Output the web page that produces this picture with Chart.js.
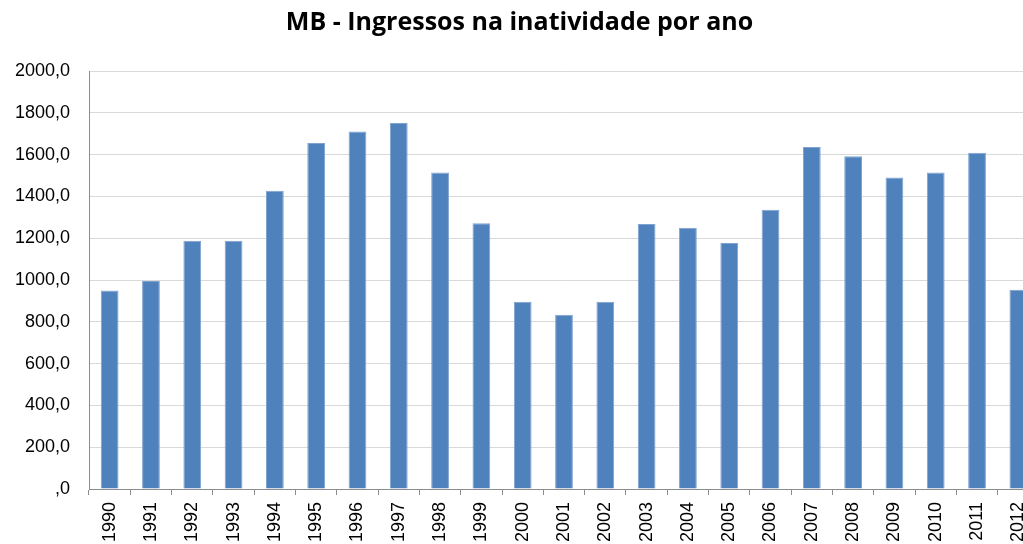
<!DOCTYPE html>
<html lang="pt">
<head>
    <meta charset="UTF-8">
    <title>MB - Ingressos na inatividade por ano</title>
    <script src="https://cdn.jsdelivr.net/npm/chart.js"></script>
    <style>
        html, body {
            margin: 0;
            padding: 0;
            background: #fff;
            overflow: hidden;
        }
        #chart {
            display: block;
        }
    </style>
</head>
<body>
    <canvas id="chart" width="1055" height="560"></canvas>

    <script>
        // Anos e ingressos por ano
        const years = ['1990', '1991', '1992', '1993', '1994', '1995', '1996', '1997', '1998', '1999', '2000', '2001',
                       '2002', '2003', '2004', '2005', '2006', '2007', '2008', '2009', '2010', '2011', '2012'];
        const ingressos = [950, 995, 1188, 1188, 1427, 1655, 1711, 1751, 1514, 1272, 896, 834,
                           896, 1268, 1250, 1177, 1336, 1636, 1592, 1490, 1514, 1609, 953];
        const yMax = 2000;
        const yStep = 200;

        function formatTick(v) {
            if (v === 0) return ',0';
            return v.toFixed(1).replace('.', ',');
        }

        const ctx = document.getElementById('chart').getContext('2d');
        new Chart(ctx, {
            type: 'bar',
            data: {
                labels: years,
                datasets: [{
                    label: 'Ingressos',
                    data: ingressos,
                    backgroundColor: '#4F81BD',
                    borderColor: '#7FA3CF',
                    borderWidth: 1,
                    barPercentage: 0.43,
                    categoryPercentage: 1.0
                }]
            },
            options: {
                responsive: false,
                animation: false,
                devicePixelRatio: 1,
                layout: {
                    padding: { left: 0, right: 16, top: 0, bottom: 0 }
                },
                plugins: {
                    legend: { display: false },
                    tooltip: { enabled: false },
                    title: {
                        display: true,
                        text: 'MB - Ingressos na inatividade por ano',
                        color: '#000',
                        font: { family: 'Open Sans', size: 25, weight: 'bold' },
                        padding: { top: 8, bottom: 33 }
                    }
                },
                scales: {
                    x: {
                        grid: {
                            offset: true,
                            drawOnChartArea: false,
                            drawTicks: true,
                            tickLength: 6,
                            color: '#8c8c8c'
                        },
                        border: { color: '#8c8c8c', width: 1 },
                        ticks: {
                            color: '#000',
                            font: { family: 'Liberation Sans', size: 18 },
                            maxRotation: 90,
                            minRotation: 90,
                            padding: 7,
                            autoSkip: false
                        },
                        afterFit: function(scale) { scale.height = 71; }
                    },
                    y: {
                        min: 0,
                        max: yMax,
                        grid: {
                            color: '#d9d9d9',
                            drawTicks: false
                        },
                        border: { color: '#8c8c8c', width: 1 },
                        ticks: {
                            stepSize: yStep,
                            color: '#000',
                            font: { family: 'Liberation Sans', size: 18 },
                            padding: 19,
                            callback: formatTick
                        },
                        afterFit: function(scale) { scale.width = 89; }
                    }
                }
            }
        });
    </script>
</body>
</html>
